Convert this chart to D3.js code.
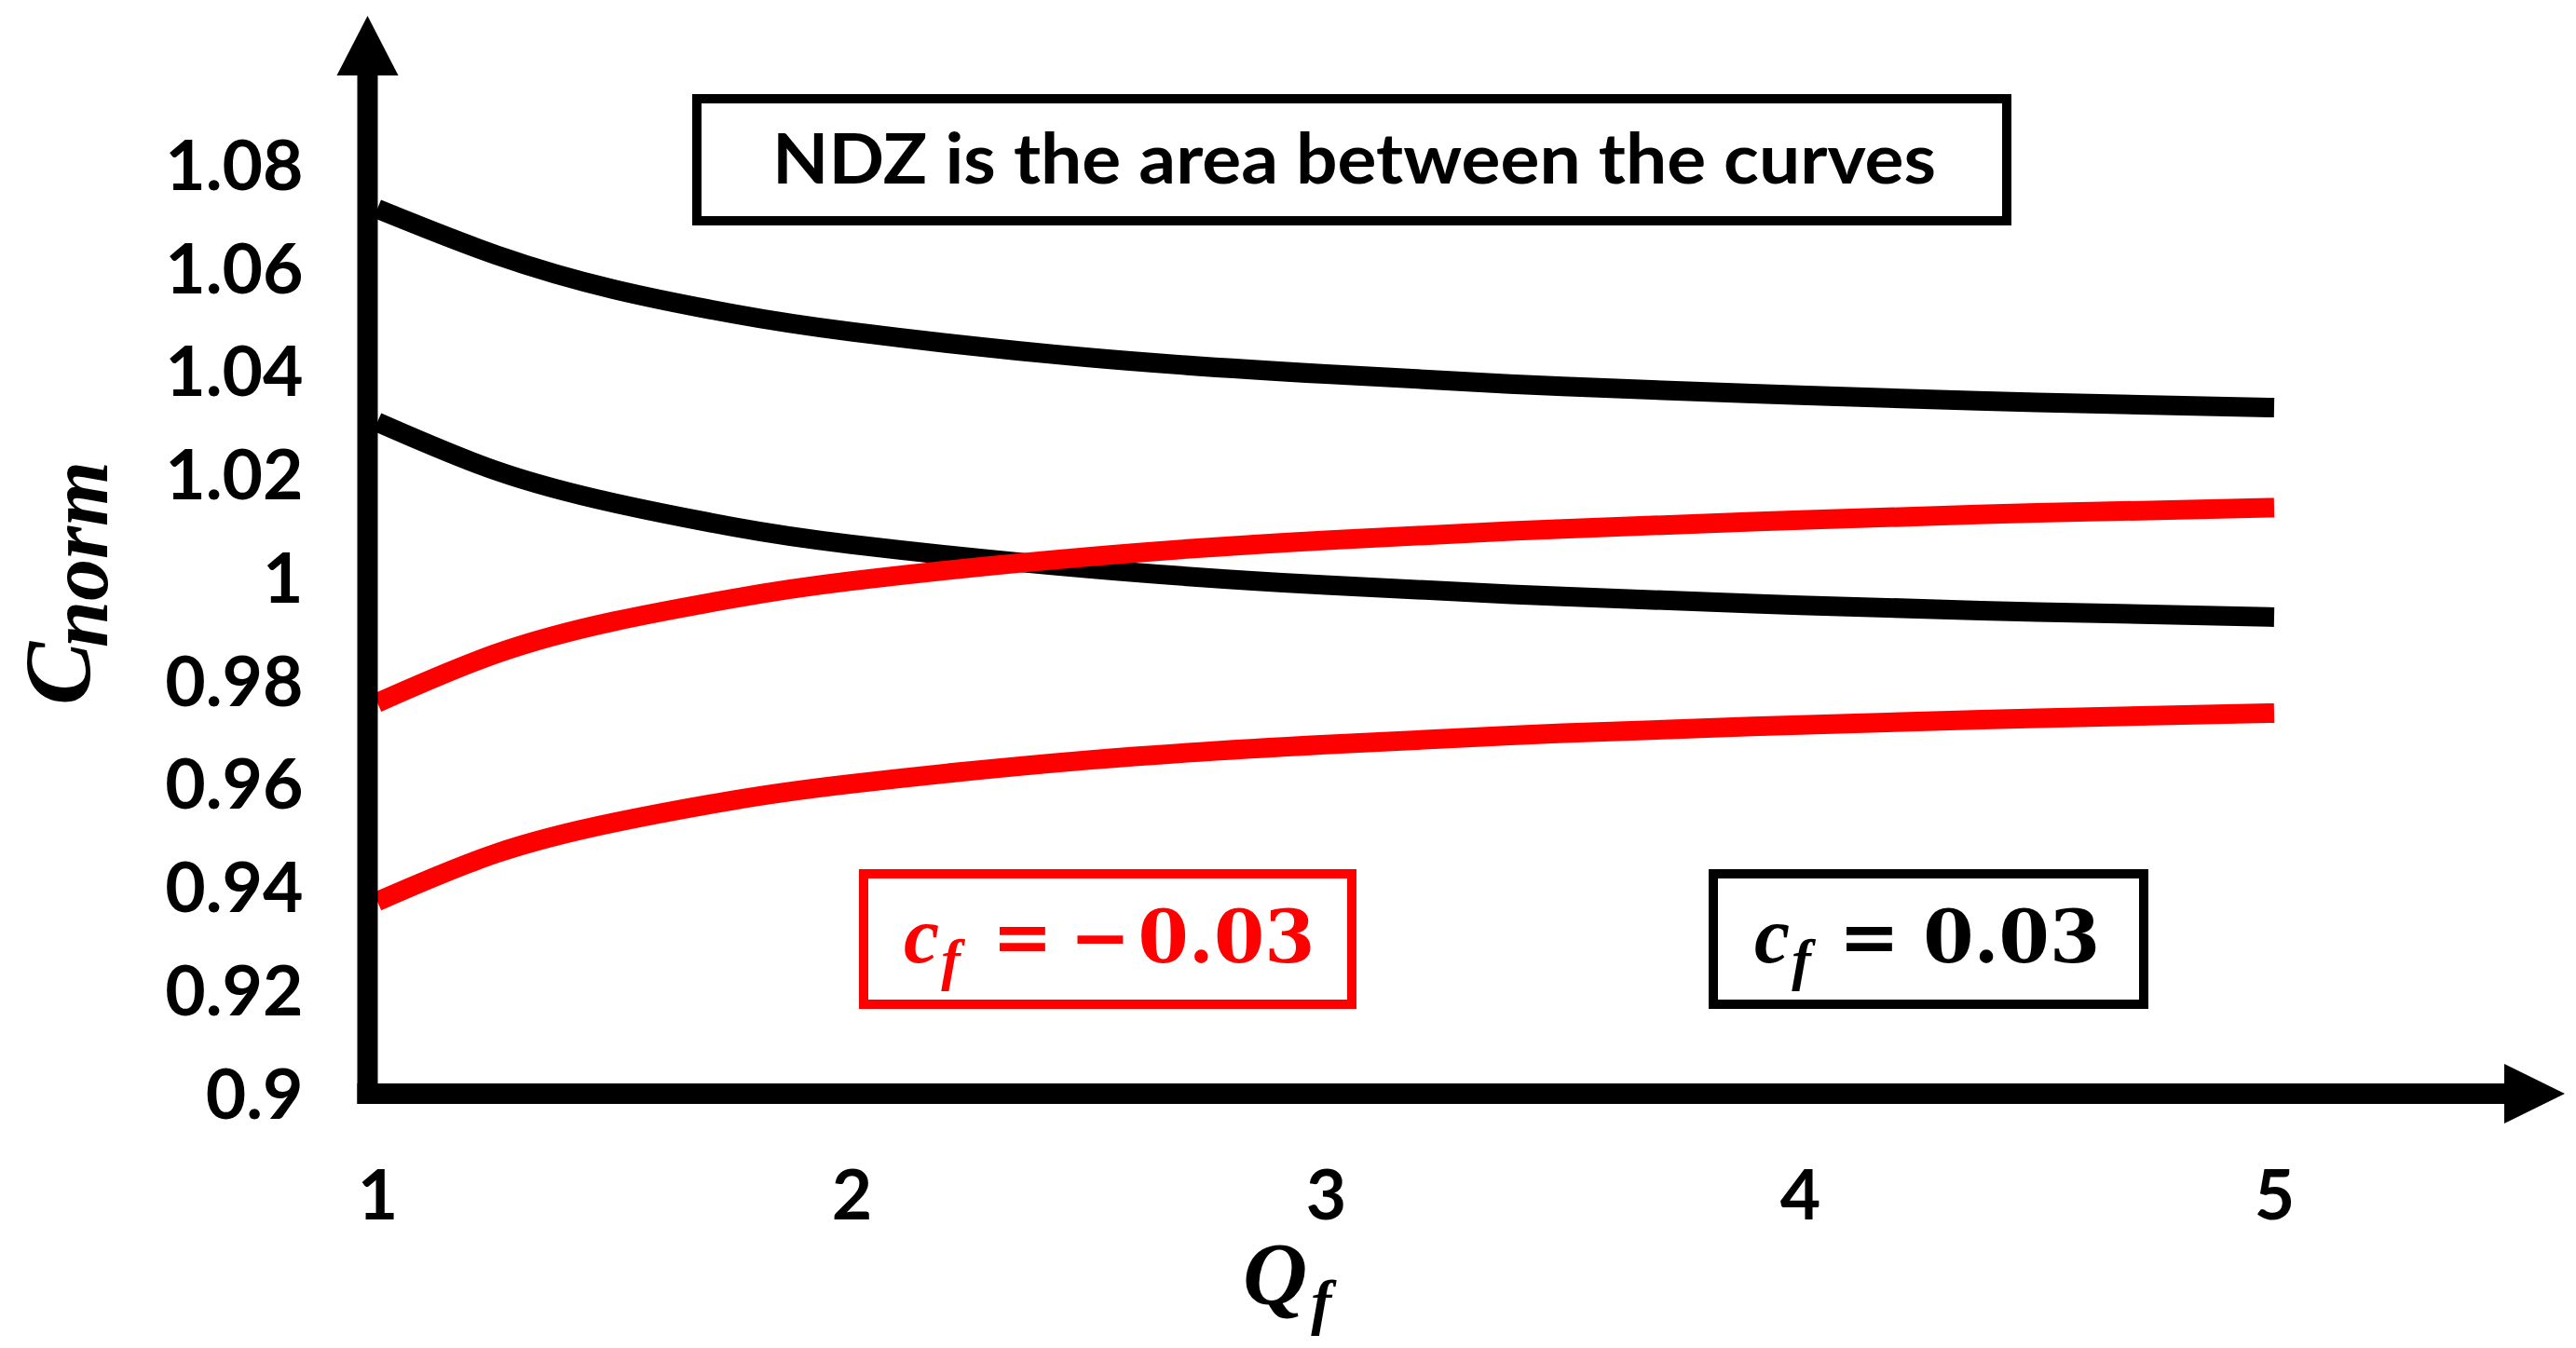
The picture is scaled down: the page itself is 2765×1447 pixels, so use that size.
<!DOCTYPE html>
<html><head><meta charset="utf-8">
<script src="https://cdn.jsdelivr.net/npm/d3@7"></script>
<style>html,body{margin:0;padding:0;background:#fff;} svg{display:block}</style>
</head><body>
<svg id="chart" width="2765" height="1447"></svg>
<script>
// ---- data ----
const qf = [1, 1.25, 1.5, 1.75, 2, 2.5, 3, 3.5, 4, 4.5, 5];
const posUpper = [1.0720, 1.0631, 1.0564, 1.0517, 1.0482, 1.0432, 1.0400, 1.0376, 1.0359, 1.0345, 1.0335]; // cf = 0.03, upper
const posLower = [1.0307, 1.0213, 1.0150, 1.0104, 1.0070, 1.0023, 0.9991, 0.9969, 0.9952, 0.9939, 0.9929]; // cf = 0.03, lower
const negUpper = [0.9763, 0.9858, 0.9921, 0.9965, 0.9999, 1.0046, 1.0078, 1.0100, 1.0117, 1.0131, 1.0141]; // cf = -0.03, upper
const negLower = [0.9378, 0.9471, 0.9531, 0.9574, 0.9606, 0.9652, 0.9682, 0.9704, 0.9720, 0.9733, 0.9743]; // cf = -0.03, lower
const xTicks = [1, 2, 3, 4, 5];
const xTickLabels = ["1", "2", "3", "4", "5"];
const yTicks = [0.9, 0.92, 0.94, 0.96, 0.98, 1.0, 1.02, 1.04, 1.06, 1.08];
const yTickLabels = ["0.9", "0.92", "0.94", "0.96", "0.98", "1", "1.02", "1.04", "1.06", "1.08"];
const seriesList = [
  {name: "cf=0.03 upper", values: posUpper, color: "#000000"},
  {name: "cf=0.03 lower", values: posLower, color: "#000000"},
  {name: "cf=-0.03 upper", values: negUpper, color: "#FF0000"},
  {name: "cf=-0.03 lower", values: negLower, color: "#FF0000"}
];
const noteText = "NDZ is the area between the curves";

// ---- scales ----
const svg = d3.select("#chart");
const x = d3.scaleLinear().domain([1, 5]).range([405, 2441]);
const y = d3.scaleLinear().domain([0.9, 1.08]).range([1177, 180]);

const tickFont = "Lato, 'Open Sans', sans-serif";
const mathFont = "'Liberation Serif', 'DejaVu Serif', serif";

// ---- curves ----
const line = d3.line().x((d, i) => x(qf[i])).y(d => y(d)).curve(d3.curveNatural);
svg.append("g").selectAll("path").data(seriesList).join("path")
  .attr("d", d => line(d.values))
  .attr("fill", "none")
  .attr("stroke", d => d.color)
  .attr("stroke-width", 21)
  .attr("stroke-linecap", "butt");

// ---- axes with arrows ----
const ax = x(1) - 10.5;   // vertical axis centre
const ay = y(0.9) - 3;    // horizontal axis centre
const aw = 22;
const axes = svg.append("g").attr("fill", "#000");
axes.append("rect").attr("x", ax - aw / 2).attr("y", 80).attr("width", aw).attr("height", ay + aw / 2 - 80);
axes.append("path").attr("d", `M${ax - 33},81 L${ax + 33},81 L${ax},17 Z`);
axes.append("rect").attr("x", ax - aw / 2).attr("y", ay - aw / 2).attr("width", 2690 - (ax - aw / 2)).attr("height", aw);
axes.append("path").attr("d", `M2688,${ay - 32} L2688,${ay + 32} L2753,${ay} Z`);

// ---- tick labels via d3 axes ----
const yAxis = d3.axisLeft(y).tickValues(yTicks).tickFormat((d, i) => yTickLabels[i]).tickSize(0).tickPadding(58);
svg.append("g").attr("transform", `translate(${ax - aw / 2},0)`).call(yAxis)
  .call(g => g.select(".domain").remove())
  .call(g => g.selectAll("text").attr("font-family", tickFont).attr("font-weight", "bold")
    .attr("font-size", 75).attr("fill", "#000").attr("dy", "0.31em"));

const xAxis = d3.axisBottom(x).tickValues(xTicks).tickFormat((d, i) => xTickLabels[i]).tickSize(0).tickPadding(82);
svg.append("g").attr("transform", `translate(0,${ay})`).call(xAxis)
  .call(g => g.select(".domain").remove())
  .call(g => g.selectAll("text").attr("font-family", tickFont).attr("font-weight", "bold")
    .attr("font-size", 75).attr("fill", "#000"));

// ---- axis titles ----
const xt = svg.append("text").attr("x", 1334).attr("y", 1400)
  .attr("font-family", mathFont).attr("font-weight", "bold").attr("font-style", "italic").attr("fill", "#000");
xt.append("tspan").attr("font-size", 96).text("Q");
xt.append("tspan").attr("font-size", 66).attr("dx", 4).attr("dy", 20).text("f");

const yt = svg.append("text").attr("transform", "translate(97,757) rotate(-90)")
  .attr("font-family", mathFont).attr("font-weight", "bold").attr("font-style", "italic").attr("fill", "#000");
yt.append("tspan").attr("font-size", 102).text("C");
yt.append("tspan").attr("font-size", 90).attr("dx", -6).attr("dy", 18).text("norm");

// ---- annotation boxes ----
svg.append("rect").attr("x", 748).attr("y", 106).attr("width", 1406).attr("height", 131)
  .attr("fill", "none").attr("stroke", "#000").attr("stroke-width", 10);
svg.append("text").attr("x", 829).attr("y", 197)
  .attr("font-family", tickFont).attr("font-weight", "bold").attr("font-size", 74)
  .attr("textLength", 1249).attr("lengthAdjust", "spacingAndGlyphs").attr("fill", "#000").text(noteText);

function cfLabel(bx, bw, tx, color, valueParts) {
  svg.append("rect").attr("x", bx).attr("y", 938).attr("width", bw).attr("height", 140)
    .attr("fill", "#fff").attr("stroke", color).attr("stroke-width", 10);
  const t = svg.append("text").attr("x", tx).attr("y", 1033).attr("fill", color).attr("font-weight", "bold");
  t.append("tspan").attr("font-family", mathFont).attr("font-style", "italic").attr("font-size", 86).text("c");
  t.append("tspan").attr("font-family", mathFont).attr("font-style", "italic").attr("font-size", 62)
    .attr("dx", 2).attr("dy", 18).text("f");
  valueParts.forEach((p, i) => {
    t.append("tspan").attr("font-family", "'DejaVu Serif', serif").attr("font-size", 78)
      .attr("dx", p.dx).attr("dy", i === 0 ? -18 : 0).text(p.text);
  });
}
cfLabel(927, 524, 970, "#FF0000", [{text: "=", dx: 34}, {text: "\u2212", dx: 18}, {text: "0.03", dx: 8}]);
cfLabel(1839, 462, 1883, "#000000", [{text: "=", dx: 30}, {text: "0.03", dx: 25}]);
</script>
</body></html>
